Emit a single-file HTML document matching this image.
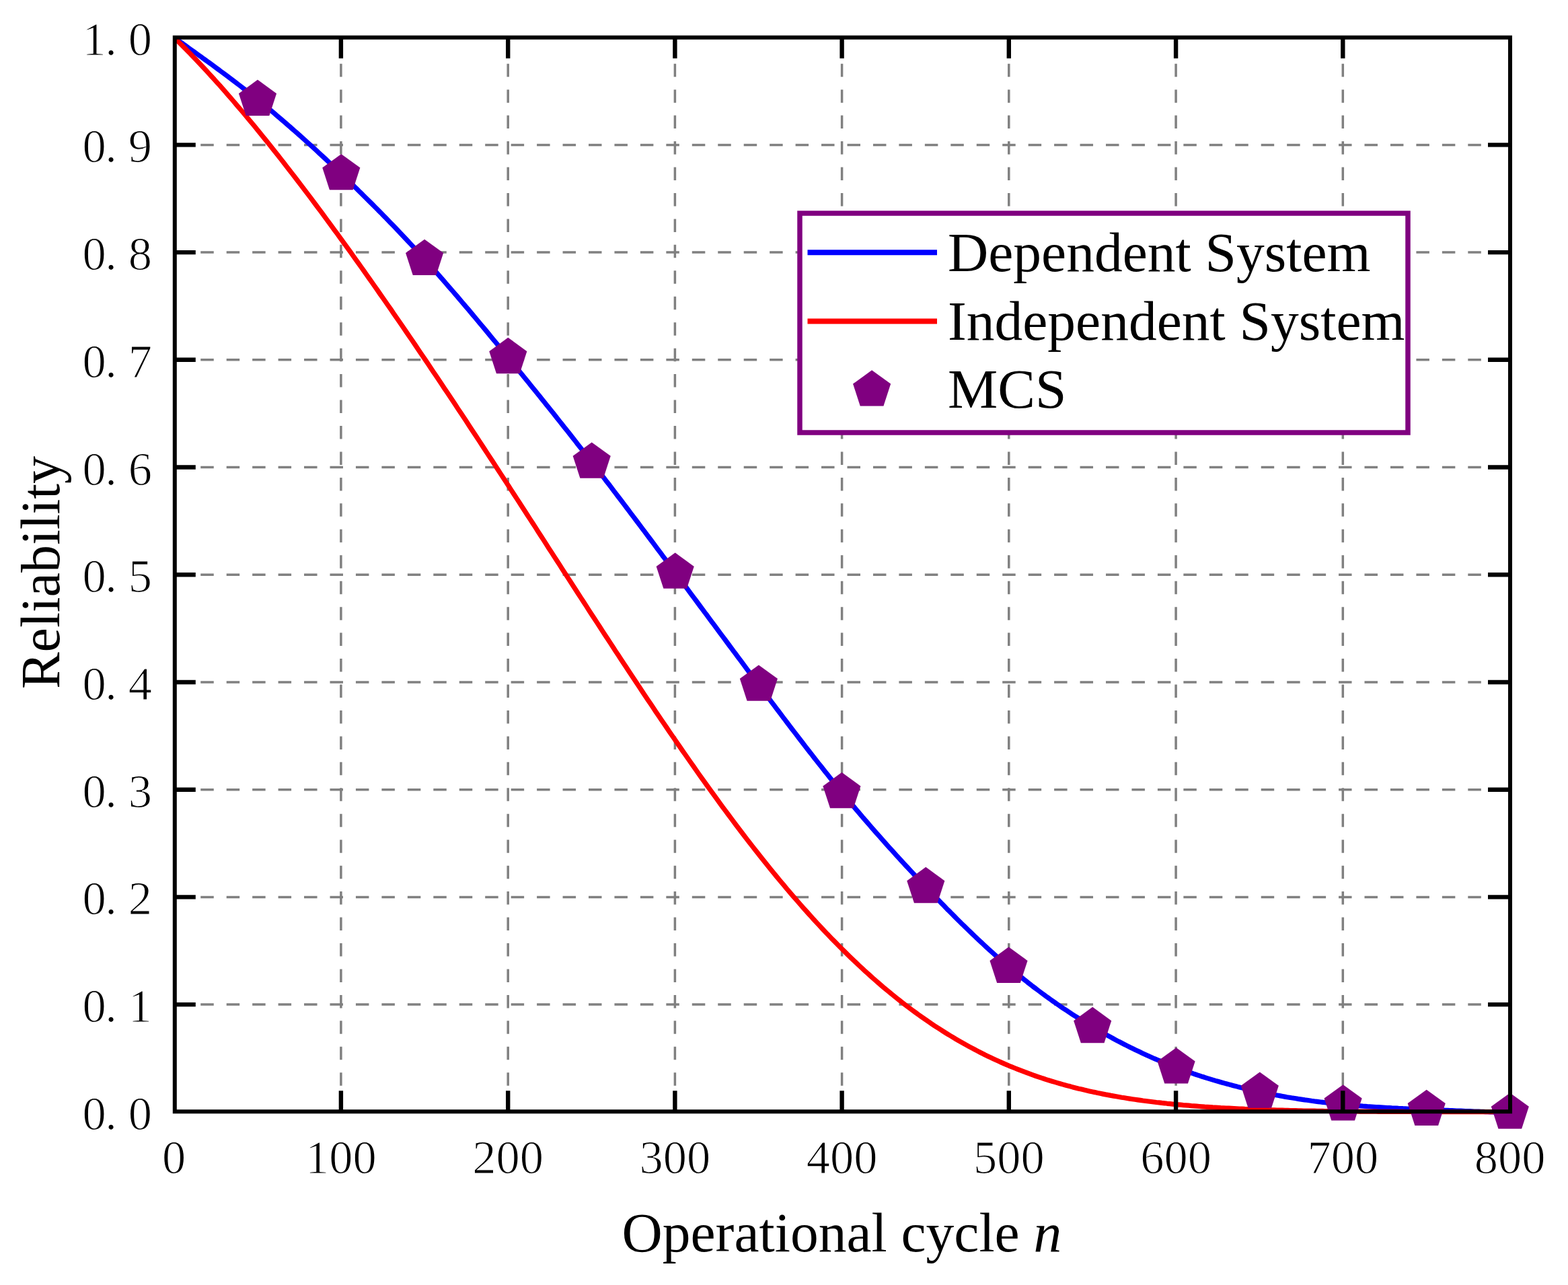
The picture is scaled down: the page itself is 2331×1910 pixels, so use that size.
<!DOCTYPE html>
<html><head><meta charset="utf-8"><title>Reliability vs Operational cycle</title>
<style>html,body{margin:0;padding:0;background:#fff;overflow:hidden;}svg{display:block;}</style>
</head><body>
<svg width="2331" height="1910" viewBox="0 0 2331 1910"><rect width="2331" height="1910" fill="#fff"/><defs><clipPath id="pc"><rect x="259.8" y="55.7" width="1985.2" height="1608.5"/></clipPath></defs><path d="M259.8,1493.1 H2245.0 M259.8,1333.4 H2245.0 M259.8,1173.7 H2245.0 M259.8,1014.0 H2245.0 M259.8,854.2 H2245.0 M259.8,694.5 H2245.0 M259.8,534.8 H2245.0 M259.8,375.1 H2245.0 M259.8,215.4 H2245.0 M506.9,1652.2 V55.7 M755.2,1652.2 V55.7 M1003.4,1652.2 V55.7 M1251.6,1652.2 V55.7 M1499.8,1652.2 V55.7 M1748.1,1652.2 V55.7 M1996.3,1652.2 V55.7" stroke="#808080" stroke-width="3.5" stroke-dasharray="19.5 18.95" fill="none"/><rect x="1189" y="317" width="904" height="326" fill="#fff" stroke="#800080" stroke-width="7.5"/><g clip-path="url(#pc)" fill="none" stroke-width="7.2" stroke-linejoin="round"><path d="M258.7,55.7 L262.0,58.1 L265.3,60.4 L268.6,62.8 L272.0,65.1 L275.3,67.5 L278.6,69.9 L281.9,72.3 L285.2,74.6 L288.5,77.0 L291.9,79.4 L295.2,81.8 L298.5,84.2 L301.8,86.6 L305.1,89.0 L308.4,91.4 L311.8,93.8 L315.1,96.2 L318.4,98.6 L321.7,101.1 L325.0,103.5 L328.3,106.0 L331.6,108.4 L335.0,110.9 L338.3,113.4 L341.6,115.9 L344.9,118.4 L348.2,120.9 L351.5,123.4 L354.9,126.0 L358.2,128.5 L361.5,131.1 L364.8,133.7 L368.1,136.3 L371.4,138.9 L374.7,141.5 L378.1,144.1 L381.4,146.8 L384.7,149.5 L388.0,152.2 L391.3,154.9 L394.6,157.6 L398.0,160.3 L401.3,163.1 L404.6,165.8 L407.9,168.6 L411.2,171.4 L414.5,174.3 L417.9,177.1 L421.2,179.9 L424.5,182.8 L427.8,185.7 L431.1,188.5 L434.4,191.5 L437.7,194.4 L441.1,197.3 L444.4,200.2 L447.7,203.2 L451.0,206.2 L454.3,209.1 L457.6,212.1 L461.0,215.2 L464.3,218.2 L467.6,221.2 L470.9,224.2 L474.2,227.3 L477.5,230.4 L480.9,233.5 L484.2,236.5 L487.5,239.6 L490.8,242.8 L494.1,245.9 L497.4,249.0 L500.7,252.2 L504.1,255.3 L507.4,258.5 L510.7,261.6 L514.0,264.8 L517.3,268.0 L520.6,271.2 L524.0,274.4 L527.3,277.7 L530.6,280.9 L533.9,284.2 L537.2,287.4 L540.5,290.7 L543.8,294.0 L547.2,297.3 L550.5,300.6 L553.8,303.9 L557.1,307.2 L560.4,310.6 L563.7,313.9 L567.1,317.3 L570.4,320.7 L573.7,324.1 L577.0,327.5 L580.3,330.9 L583.6,334.3 L587.0,337.8 L590.3,341.3 L593.6,344.7 L596.9,348.2 L600.2,351.7 L603.5,355.3 L606.8,358.8 L610.2,362.4 L613.5,365.9 L616.8,369.5 L620.1,373.1 L623.4,376.8 L626.7,380.4 L630.1,384.0 L633.4,387.7 L636.7,391.4 L640.0,395.1 L643.3,398.8 L646.6,402.6 L650.0,406.3 L653.3,410.1 L656.6,413.9 L659.9,417.7 L663.2,421.5 L666.5,425.3 L669.8,429.1 L673.2,433.0 L676.5,436.8 L679.8,440.7 L683.1,444.6 L686.4,448.5 L689.7,452.4 L693.1,456.3 L696.4,460.2 L699.7,464.1 L703.0,468.1 L706.3,472.0 L709.6,476.0 L712.9,480.0 L716.3,484.0 L719.6,487.9 L722.9,491.9 L726.2,495.9 L729.5,500.0 L732.8,504.0 L736.2,508.0 L739.5,512.0 L742.8,516.0 L746.1,520.1 L749.4,524.1 L752.7,528.2 L756.1,532.2 L759.4,536.3 L762.7,540.3 L766.0,544.4 L769.3,548.5 L772.6,552.5 L775.9,556.6 L779.3,560.7 L782.6,564.8 L785.9,568.8 L789.2,572.9 L792.5,577.0 L795.8,581.1 L799.2,585.2 L802.5,589.3 L805.8,593.5 L809.1,597.6 L812.4,601.7 L815.7,605.8 L819.1,610.0 L822.4,614.1 L825.7,618.3 L829.0,622.4 L832.3,626.6 L835.6,630.8 L838.9,635.0 L842.3,639.1 L845.6,643.3 L848.9,647.5 L852.2,651.7 L855.5,655.9 L858.8,660.2 L862.2,664.4 L865.5,668.6 L868.8,672.9 L872.1,677.1 L875.4,681.4 L878.7,685.7 L882.1,689.9 L885.4,694.2 L888.7,698.5 L892.0,702.8 L895.3,707.1 L898.6,711.4 L901.9,715.8 L905.3,720.1 L908.6,724.4 L911.9,728.8 L915.2,733.1 L918.5,737.5 L921.8,741.8 L925.2,746.2 L928.5,750.6 L931.8,755.0 L935.1,759.4 L938.4,763.8 L941.7,768.1 L945.0,772.5 L948.4,777.0 L951.7,781.4 L955.0,785.8 L958.3,790.2 L961.6,794.6 L964.9,799.0 L968.3,803.5 L971.6,807.9 L974.9,812.3 L978.2,816.8 L981.5,821.2 L984.8,825.7 L988.2,830.1 L991.5,834.6 L994.8,839.0 L998.1,843.5 L1001.4,847.9 L1004.7,852.4 L1008.0,856.8 L1011.4,861.3 L1014.7,865.8 L1018.0,870.2 L1021.3,874.7 L1024.6,879.1 L1027.9,883.6 L1031.3,888.1 L1034.6,892.5 L1037.9,897.0 L1041.2,901.5 L1044.5,905.9 L1047.8,910.4 L1051.2,914.8 L1054.5,919.3 L1057.8,923.8 L1061.1,928.2 L1064.4,932.7 L1067.7,937.2 L1071.0,941.6 L1074.4,946.1 L1077.7,950.5 L1081.0,955.0 L1084.3,959.5 L1087.6,963.9 L1090.9,968.4 L1094.3,972.8 L1097.6,977.3 L1100.9,981.7 L1104.2,986.2 L1107.5,990.6 L1110.8,995.1 L1114.1,999.5 L1117.5,1003.9 L1120.8,1008.4 L1124.1,1012.8 L1127.4,1017.2 L1130.7,1021.7 L1134.0,1026.1 L1137.4,1030.5 L1140.7,1035.0 L1144.0,1039.4 L1147.3,1043.8 L1150.6,1048.2 L1153.9,1052.6 L1157.3,1057.0 L1160.6,1061.4 L1163.9,1065.8 L1167.2,1070.1 L1170.5,1074.5 L1173.8,1078.9 L1177.1,1083.2 L1180.5,1087.6 L1183.8,1091.9 L1187.1,1096.2 L1190.4,1100.5 L1193.7,1104.8 L1197.0,1109.1 L1200.4,1113.4 L1203.7,1117.7 L1207.0,1121.9 L1210.3,1126.2 L1213.6,1130.4 L1216.9,1134.6 L1220.3,1138.8 L1223.6,1143.0 L1226.9,1147.2 L1230.2,1151.3 L1233.5,1155.5 L1236.8,1159.6 L1240.1,1163.7 L1243.5,1167.8 L1246.8,1171.9 L1250.1,1175.9 L1253.4,1179.9 L1256.7,1184.0 L1260.0,1188.0 L1263.4,1191.9 L1266.7,1195.9 L1270.0,1199.9 L1273.3,1203.8 L1276.6,1207.7 L1279.9,1211.6 L1283.2,1215.5 L1286.6,1219.3 L1289.9,1223.2 L1293.2,1227.0 L1296.5,1230.8 L1299.8,1234.6 L1303.1,1238.4 L1306.5,1242.2 L1309.8,1245.9 L1313.1,1249.6 L1316.4,1253.4 L1319.7,1257.1 L1323.0,1260.8 L1326.4,1264.4 L1329.7,1268.1 L1333.0,1271.8 L1336.3,1275.4 L1339.6,1279.0 L1342.9,1282.6 L1346.2,1286.2 L1349.6,1289.8 L1352.9,1293.4 L1356.2,1296.9 L1359.5,1300.5 L1362.8,1304.0 L1366.1,1307.6 L1369.5,1311.1 L1372.8,1314.6 L1376.1,1318.1 L1379.4,1321.6 L1382.7,1325.0 L1386.0,1328.5 L1389.4,1331.9 L1392.7,1335.4 L1396.0,1338.8 L1399.3,1342.2 L1402.6,1345.6 L1405.9,1349.0 L1409.2,1352.4 L1412.6,1355.7 L1415.9,1359.1 L1419.2,1362.4 L1422.5,1365.7 L1425.8,1369.0 L1429.1,1372.3 L1432.5,1375.5 L1435.8,1378.8 L1439.1,1382.0 L1442.4,1385.2 L1445.7,1388.4 L1449.0,1391.5 L1452.3,1394.7 L1455.7,1397.8 L1459.0,1400.9 L1462.3,1404.0 L1465.6,1407.1 L1468.9,1410.1 L1472.2,1413.1 L1475.6,1416.1 L1478.9,1419.1 L1482.2,1422.1 L1485.5,1425.0 L1488.8,1427.9 L1492.1,1430.8 L1495.5,1433.6 L1498.8,1436.5 L1502.1,1439.3 L1505.4,1442.1 L1508.7,1444.8 L1512.0,1447.6 L1515.3,1450.3 L1518.7,1452.9 L1522.0,1455.6 L1525.3,1458.2 L1528.6,1460.8 L1531.9,1463.4 L1535.2,1466.0 L1538.6,1468.5 L1541.9,1471.0 L1545.2,1473.5 L1548.5,1476.0 L1551.8,1478.4 L1555.1,1480.9 L1558.5,1483.3 L1561.8,1485.6 L1565.1,1488.0 L1568.4,1490.3 L1571.7,1492.6 L1575.0,1494.9 L1578.3,1497.2 L1581.7,1499.4 L1585.0,1501.6 L1588.3,1503.8 L1591.6,1506.0 L1594.9,1508.2 L1598.2,1510.3 L1601.6,1512.4 L1604.9,1514.5 L1608.2,1516.6 L1611.5,1518.6 L1614.8,1520.7 L1618.1,1522.7 L1621.4,1524.7 L1624.8,1526.6 L1628.1,1528.6 L1631.4,1530.5 L1634.7,1532.4 L1638.0,1534.3 L1641.3,1536.2 L1644.7,1538.1 L1648.0,1539.9 L1651.3,1541.7 L1654.6,1543.5 L1657.9,1545.3 L1661.2,1547.1 L1664.6,1548.8 L1667.9,1550.5 L1671.2,1552.2 L1674.5,1553.9 L1677.8,1555.6 L1681.1,1557.2 L1684.4,1558.8 L1687.8,1560.5 L1691.1,1562.0 L1694.4,1563.6 L1697.7,1565.2 L1701.0,1566.7 L1704.3,1568.2 L1707.7,1569.7 L1711.0,1571.2 L1714.3,1572.7 L1717.6,1574.1 L1720.9,1575.5 L1724.2,1576.9 L1727.6,1578.3 L1730.9,1579.7 L1734.2,1581.0 L1737.5,1582.4 L1740.8,1583.7 L1744.1,1585.0 L1747.4,1586.3 L1750.8,1587.5 L1754.1,1588.8 L1757.4,1590.0 L1760.7,1591.2 L1764.0,1592.4 L1767.3,1593.6 L1770.7,1594.7 L1774.0,1595.9 L1777.3,1597.0 L1780.6,1598.1 L1783.9,1599.2 L1787.2,1600.3 L1790.6,1601.3 L1793.9,1602.4 L1797.2,1603.4 L1800.5,1604.4 L1803.8,1605.4 L1807.1,1606.4 L1810.4,1607.3 L1813.8,1608.3 L1817.1,1609.2 L1820.4,1610.1 L1823.7,1611.0 L1827.0,1611.9 L1830.3,1612.8 L1833.7,1613.7 L1837.0,1614.5 L1840.3,1615.4 L1843.6,1616.2 L1846.9,1617.0 L1850.2,1617.8 L1853.5,1618.6 L1856.9,1619.4 L1860.2,1620.1 L1863.5,1620.9 L1866.8,1621.6 L1870.1,1622.3 L1873.4,1623.0 L1876.8,1623.7 L1880.1,1624.4 L1883.4,1625.1 L1886.7,1625.8 L1890.0,1626.4 L1893.3,1627.1 L1896.7,1627.7 L1900.0,1628.3 L1903.3,1628.9 L1906.6,1629.5 L1909.9,1630.1 L1913.2,1630.7 L1916.5,1631.2 L1919.9,1631.8 L1923.2,1632.3 L1926.5,1632.8 L1929.8,1633.4 L1933.1,1633.9 L1936.4,1634.4 L1939.8,1634.9 L1943.1,1635.3 L1946.4,1635.8 L1949.7,1636.3 L1953.0,1636.7 L1956.3,1637.2 L1959.7,1637.6 L1963.0,1638.0 L1966.3,1638.4 L1969.6,1638.8 L1972.9,1639.2 L1976.2,1639.6 L1979.5,1639.9 L1982.9,1640.3 L1986.2,1640.7 L1989.5,1641.0 L1992.8,1641.3 L1996.1,1641.7 L1999.4,1642.0 L2002.8,1642.3 L2006.1,1642.6 L2009.4,1642.9 L2012.7,1643.1 L2016.0,1643.4 L2019.3,1643.7 L2022.6,1643.9 L2026.0,1644.2 L2029.3,1644.4 L2032.6,1644.7 L2035.9,1644.9 L2039.2,1645.1 L2042.5,1645.3 L2045.9,1645.5 L2049.2,1645.7 L2052.5,1645.9 L2055.8,1646.1 L2059.1,1646.3 L2062.4,1646.5 L2065.8,1646.7 L2069.1,1646.9 L2072.4,1647.0 L2075.7,1647.2 L2079.0,1647.4 L2082.3,1647.5 L2085.6,1647.7 L2089.0,1647.8 L2092.3,1648.0 L2095.6,1648.1 L2098.9,1648.3 L2102.2,1648.4 L2105.5,1648.6 L2108.9,1648.7 L2112.2,1648.9 L2115.5,1649.0 L2118.8,1649.1 L2122.1,1649.3 L2125.4,1649.4 L2128.8,1649.5 L2132.1,1649.7 L2135.4,1649.8 L2138.7,1649.9 L2142.0,1650.1 L2145.3,1650.2 L2148.6,1650.3 L2152.0,1650.4 L2155.3,1650.6 L2158.6,1650.7 L2161.9,1650.8 L2165.2,1651.0 L2168.5,1651.1 L2171.9,1651.2 L2175.2,1651.3 L2178.5,1651.5 L2181.8,1651.6 L2185.1,1651.7 L2188.4,1651.8 L2191.7,1652.0 L2195.1,1652.1 L2198.4,1652.2 L2201.7,1652.3 L2205.0,1652.4 L2208.3,1652.6 L2211.6,1652.7 L2215.0,1652.8 L2218.3,1652.9 L2221.6,1653.1 L2224.9,1653.2 L2228.2,1653.3 L2231.5,1653.4 L2234.9,1653.5 L2238.2,1653.7 L2241.5,1653.8 L2244.8,1653.9" stroke="#0000ff"/><path d="M258.7,55.7 L262.7,59.6 L266.7,63.5 L270.6,67.4 L274.6,71.4 L278.6,75.5 L282.6,79.6 L286.6,83.7 L290.5,87.8 L294.5,92.0 L298.5,96.2 L302.5,100.5 L306.5,104.8 L310.4,109.1 L314.4,113.5 L318.4,117.8 L322.4,122.3 L326.4,126.7 L330.3,131.2 L334.3,135.7 L338.3,140.3 L342.3,144.9 L346.3,149.5 L350.2,154.1 L354.2,158.8 L358.2,163.5 L362.2,168.2 L366.2,172.9 L370.1,177.7 L374.1,182.5 L378.1,187.3 L382.1,192.2 L386.0,197.1 L390.0,202.0 L394.0,206.9 L398.0,211.8 L402.0,216.8 L405.9,221.8 L409.9,226.8 L413.9,231.8 L417.9,236.9 L421.9,242.0 L425.8,247.1 L429.8,252.2 L433.8,257.4 L437.8,262.5 L441.8,267.7 L445.7,272.9 L449.7,278.1 L453.7,283.4 L457.7,288.6 L461.7,293.9 L465.6,299.2 L469.6,304.5 L473.6,309.9 L477.6,315.2 L481.6,320.6 L485.5,326.0 L489.5,331.4 L493.5,336.8 L497.5,342.3 L501.5,347.7 L505.4,353.2 L509.4,358.7 L513.4,364.2 L517.4,369.7 L521.4,375.2 L525.3,380.8 L529.3,386.3 L533.3,391.9 L537.3,397.5 L541.3,403.1 L545.2,408.7 L549.2,414.4 L553.2,420.0 L557.2,425.7 L561.2,431.4 L565.1,437.1 L569.1,442.8 L573.1,448.5 L577.1,454.2 L581.1,459.9 L585.0,465.7 L589.0,471.5 L593.0,477.2 L597.0,483.0 L600.9,488.8 L604.9,494.6 L608.9,500.5 L612.9,506.3 L616.9,512.1 L620.8,518.0 L624.8,523.9 L628.8,529.8 L632.8,535.6 L636.8,541.5 L640.7,547.5 L644.7,553.4 L648.7,559.3 L652.7,565.2 L656.7,571.2 L660.6,577.2 L664.6,583.1 L668.6,589.1 L672.6,595.1 L676.6,601.1 L680.5,607.1 L684.5,613.1 L688.5,619.1 L692.5,625.1 L696.5,631.2 L700.4,637.2 L704.4,643.3 L708.4,649.3 L712.4,655.4 L716.4,661.5 L720.3,667.5 L724.3,673.6 L728.3,679.7 L732.3,685.8 L736.3,691.9 L740.2,698.0 L744.2,704.1 L748.2,710.2 L752.2,716.4 L756.2,722.5 L760.1,728.6 L764.1,734.8 L768.1,740.9 L772.1,747.0 L776.1,753.2 L780.0,759.3 L784.0,765.5 L788.0,771.6 L792.0,777.8 L796.0,783.9 L799.9,790.1 L803.9,796.3 L807.9,802.4 L811.9,808.6 L815.8,814.8 L819.8,820.9 L823.8,827.1 L827.8,833.2 L831.8,839.4 L835.7,845.6 L839.7,851.7 L843.7,857.9 L847.7,864.0 L851.7,870.2 L855.6,876.3 L859.6,882.5 L863.6,888.6 L867.6,894.8 L871.6,900.9 L875.5,907.1 L879.5,913.2 L883.5,919.3 L887.5,925.4 L891.5,931.5 L895.4,937.7 L899.4,943.8 L903.4,949.8 L907.4,955.9 L911.4,962.0 L915.3,968.1 L919.3,974.1 L923.3,980.2 L927.3,986.2 L931.3,992.3 L935.2,998.3 L939.2,1004.3 L943.2,1010.3 L947.2,1016.3 L951.2,1022.3 L955.1,1028.3 L959.1,1034.2 L963.1,1040.2 L967.1,1046.1 L971.1,1052.0 L975.0,1057.9 L979.0,1063.8 L983.0,1069.7 L987.0,1075.6 L991.0,1081.4 L994.9,1087.2 L998.9,1093.0 L1002.9,1098.8 L1006.9,1104.6 L1010.9,1110.4 L1014.8,1116.1 L1018.8,1121.8 L1022.8,1127.5 L1026.8,1133.2 L1030.8,1138.9 L1034.7,1144.5 L1038.7,1150.2 L1042.7,1155.8 L1046.7,1161.3 L1050.6,1166.9 L1054.6,1172.4 L1058.6,1177.9 L1062.6,1183.4 L1066.6,1188.9 L1070.5,1194.3 L1074.5,1199.8 L1078.5,1205.1 L1082.5,1210.5 L1086.5,1215.9 L1090.4,1221.2 L1094.4,1226.5 L1098.4,1231.7 L1102.4,1237.0 L1106.4,1242.2 L1110.3,1247.4 L1114.3,1252.5 L1118.3,1257.6 L1122.3,1262.7 L1126.3,1267.8 L1130.2,1272.8 L1134.2,1277.8 L1138.2,1282.8 L1142.2,1287.7 L1146.2,1292.7 L1150.1,1297.5 L1154.1,1302.4 L1158.1,1307.2 L1162.1,1312.0 L1166.1,1316.7 L1170.0,1321.5 L1174.0,1326.1 L1178.0,1330.8 L1182.0,1335.4 L1186.0,1340.0 L1189.9,1344.5 L1193.9,1349.1 L1197.9,1353.5 L1201.9,1358.0 L1205.9,1362.4 L1209.8,1366.8 L1213.8,1371.1 L1217.8,1375.4 L1221.8,1379.7 L1225.8,1383.9 L1229.7,1388.1 L1233.7,1392.2 L1237.7,1396.4 L1241.7,1400.4 L1245.7,1404.5 L1249.6,1408.5 L1253.6,1412.4 L1257.6,1416.4 L1261.6,1420.3 L1265.5,1424.1 L1269.5,1427.9 L1273.5,1431.7 L1277.5,1435.5 L1281.5,1439.2 L1285.4,1442.8 L1289.4,1446.4 L1293.4,1450.0 L1297.4,1453.6 L1301.4,1457.1 L1305.3,1460.5 L1309.3,1464.0 L1313.3,1467.4 L1317.3,1470.7 L1321.3,1474.0 L1325.2,1477.3 L1329.2,1480.5 L1333.2,1483.7 L1337.2,1486.9 L1341.2,1490.0 L1345.1,1493.1 L1349.1,1496.1 L1353.1,1499.1 L1357.1,1502.1 L1361.1,1505.0 L1365.0,1507.9 L1369.0,1510.7 L1373.0,1513.5 L1377.0,1516.3 L1381.0,1519.0 L1384.9,1521.7 L1388.9,1524.4 L1392.9,1527.0 L1396.9,1529.6 L1400.9,1532.1 L1404.8,1534.6 L1408.8,1537.1 L1412.8,1539.5 L1416.8,1541.9 L1420.8,1544.3 L1424.7,1546.6 L1428.7,1548.9 L1432.7,1551.2 L1436.7,1553.4 L1440.7,1555.6 L1444.6,1557.7 L1448.6,1559.8 L1452.6,1561.9 L1456.6,1564.0 L1460.6,1566.0 L1464.5,1568.0 L1468.5,1569.9 L1472.5,1571.8 L1476.5,1573.7 L1480.4,1575.5 L1484.4,1577.3 L1488.4,1579.1 L1492.4,1580.9 L1496.4,1582.6 L1500.3,1584.3 L1504.3,1585.9 L1508.3,1587.5 L1512.3,1589.1 L1516.3,1590.7 L1520.2,1592.2 L1524.2,1593.7 L1528.2,1595.2 L1532.2,1596.7 L1536.2,1598.1 L1540.1,1599.5 L1544.1,1600.8 L1548.1,1602.2 L1552.1,1603.5 L1556.1,1604.8 L1560.0,1606.0 L1564.0,1607.2 L1568.0,1608.4 L1572.0,1609.6 L1576.0,1610.8 L1579.9,1611.9 L1583.9,1613.0 L1587.9,1614.1 L1591.9,1615.1 L1595.9,1616.2 L1599.8,1617.2 L1603.8,1618.2 L1607.8,1619.1 L1611.8,1620.1 L1615.8,1621.0 L1619.7,1621.9 L1623.7,1622.8 L1627.7,1623.6 L1631.7,1624.5 L1635.7,1625.3 L1639.6,1626.1 L1643.6,1626.9 L1647.6,1627.6 L1651.6,1628.4 L1655.6,1629.1 L1659.5,1629.8 L1663.5,1630.5 L1667.5,1631.2 L1671.5,1631.8 L1675.5,1632.5 L1679.4,1633.1 L1683.4,1633.7 L1687.4,1634.3 L1691.4,1634.9 L1695.3,1635.4 L1699.3,1636.0 L1703.3,1636.5 L1707.3,1637.0 L1711.3,1637.5 L1715.2,1638.0 L1719.2,1638.5 L1723.2,1638.9 L1727.2,1639.4 L1731.2,1639.8 L1735.1,1640.3 L1739.1,1640.7 L1743.1,1641.1 L1747.1,1641.5 L1751.1,1641.8 L1755.0,1642.2 L1759.0,1642.6 L1763.0,1642.9 L1767.0,1643.2 L1771.0,1643.6 L1774.9,1643.9 L1778.9,1644.2 L1782.9,1644.5 L1786.9,1644.8 L1790.9,1645.1 L1794.8,1645.3 L1798.8,1645.6 L1802.8,1645.9 L1806.8,1646.1 L1810.8,1646.3 L1814.7,1646.6 L1818.7,1646.8 L1822.7,1647.0 L1826.7,1647.2 L1830.7,1647.4 L1834.6,1647.6 L1838.6,1647.8 L1842.6,1648.0 L1846.6,1648.2 L1850.6,1648.4 L1854.5,1648.5 L1858.5,1648.7 L1862.5,1648.8 L1866.5,1649.0 L1870.5,1649.1 L1874.4,1649.3 L1878.4,1649.4 L1882.4,1649.5 L1886.4,1649.7 L1890.4,1649.8 L1894.3,1649.9 L1898.3,1650.0 L1902.3,1650.1 L1906.3,1650.2 L1910.3,1650.3 L1914.2,1650.4 L1918.2,1650.5 L1922.2,1650.6 L1926.2,1650.7 L1930.1,1650.8 L1934.1,1650.9 L1938.1,1651.0 L1942.1,1651.0 L1946.1,1651.1 L1950.0,1651.2 L1954.0,1651.2 L1958.0,1651.3 L1962.0,1651.4 L1966.0,1651.4 L1969.9,1651.5 L1973.9,1651.5 L1977.9,1651.6 L1981.9,1651.6 L1985.9,1651.7 L1989.8,1651.7 L1993.8,1651.8 L1997.8,1651.8 L2001.8,1651.9 L2005.8,1651.9 L2009.7,1652.0 L2013.7,1652.0 L2017.7,1652.0 L2021.7,1652.1 L2025.7,1652.1 L2029.6,1652.1 L2033.6,1652.2 L2037.6,1652.2 L2041.6,1652.2 L2045.6,1652.2 L2049.5,1652.3 L2053.5,1652.3 L2057.5,1652.3 L2061.5,1652.3 L2065.5,1652.4 L2069.4,1652.4 L2073.4,1652.4 L2077.4,1652.4 L2081.4,1652.4 L2085.4,1652.4 L2089.3,1652.5 L2093.3,1652.5 L2097.3,1652.5 L2101.3,1652.5 L2105.3,1652.5 L2109.2,1652.5 L2113.2,1652.5 L2117.2,1652.6 L2121.2,1652.6 L2125.2,1652.6 L2129.1,1652.6 L2133.1,1652.6 L2137.1,1652.6 L2141.1,1652.6 L2145.0,1652.6 L2149.0,1652.6 L2153.0,1652.6 L2157.0,1652.7 L2161.0,1652.7 L2164.9,1652.7 L2168.9,1652.7 L2172.9,1652.7 L2176.9,1652.7 L2180.9,1652.7 L2184.8,1652.7 L2188.8,1652.7 L2192.8,1652.7 L2196.8,1652.7 L2200.8,1652.7 L2204.7,1652.7 L2208.7,1652.7 L2212.7,1652.7 L2216.7,1652.7 L2220.7,1652.7 L2224.6,1652.7 L2228.6,1652.7 L2232.6,1652.7 L2236.6,1652.7 L2240.6,1652.8 L2244.5,1652.8" stroke="#ff0000"/></g><g fill="#800080"><polygon points="383.00,118.60 411.06,138.98 400.34,171.97 365.66,171.97 354.94,138.98"/><polygon points="507.30,228.90 535.36,249.28 524.64,282.27 489.96,282.27 479.24,249.28"/><polygon points="631.10,355.70 659.16,376.08 648.44,409.07 613.76,409.07 603.04,376.08"/><polygon points="755.30,501.80 783.36,522.18 772.64,555.17 737.96,555.17 727.24,522.18"/><polygon points="879.70,657.40 907.76,677.78 897.04,710.77 862.36,710.77 851.64,677.78"/><polygon points="1003.70,821.50 1031.76,841.88 1021.04,874.87 986.36,874.87 975.64,841.88"/><polygon points="1127.90,988.40 1155.96,1008.78 1145.24,1041.77 1110.56,1041.77 1099.84,1008.78"/><polygon points="1251.40,1148.00 1279.46,1168.38 1268.74,1201.37 1234.06,1201.37 1223.34,1168.38"/><polygon points="1376.30,1288.80 1404.36,1309.18 1393.64,1342.17 1358.96,1342.17 1348.24,1309.18"/><polygon points="1499.50,1407.60 1527.56,1427.98 1516.84,1460.97 1482.16,1460.97 1471.44,1427.98"/><polygon points="1624.20,1496.80 1652.26,1517.18 1641.54,1550.17 1606.86,1550.17 1596.14,1517.18"/><polygon points="1748.60,1557.20 1776.66,1577.58 1765.94,1610.57 1731.26,1610.57 1720.54,1577.58"/><polygon points="1872.80,1593.40 1900.86,1613.78 1890.14,1646.77 1855.46,1646.77 1844.74,1613.78"/><polygon points="1996.60,1612.20 2024.66,1632.58 2013.94,1665.57 1979.26,1665.57 1968.54,1632.58"/><polygon points="2120.70,1619.70 2148.76,1640.08 2138.04,1673.07 2103.36,1673.07 2092.64,1640.08"/><polygon points="2244.80,1624.40 2272.86,1644.78 2262.14,1677.77 2227.46,1677.77 2216.74,1644.78"/></g><path d="M259.8,1493.1 h31 M2245.0,1493.1 h-33 M259.8,1333.4 h31 M2245.0,1333.4 h-33 M259.8,1173.7 h31 M2245.0,1173.7 h-33 M259.8,1014.0 h31 M2245.0,1014.0 h-33 M259.8,854.2 h31 M2245.0,854.2 h-33 M259.8,694.5 h31 M2245.0,694.5 h-33 M259.8,534.8 h31 M2245.0,534.8 h-33 M259.8,375.1 h31 M2245.0,375.1 h-33 M259.8,215.4 h31 M2245.0,215.4 h-33 M506.9,1652.2 v-31 M506.9,55.7 v31 M755.2,1652.2 v-31 M755.2,55.7 v31 M1003.4,1652.2 v-31 M1003.4,55.7 v31 M1251.6,1652.2 v-31 M1251.6,55.7 v31 M1499.8,1652.2 v-31 M1499.8,55.7 v31 M1748.1,1652.2 v-31 M1748.1,55.7 v31 M1996.3,1652.2 v-31 M1996.3,55.7 v31" stroke="#000" stroke-width="6.4" fill="none"/><rect x="259.8" y="55.7" width="1985.2" height="1596.5" fill="none" stroke="#000" stroke-width="6.0"/><g font-family="Liberation Serif, serif" font-size="70.5" fill="#000" stroke="#fff" stroke-width="1.2"><text y="1678.8" text-anchor="middle"><tspan x="140">0</tspan><tspan x="165.1">.</tspan><tspan x="208.3">0</tspan></text><text y="1519.1" text-anchor="middle"><tspan x="140">0</tspan><tspan x="165.1">.</tspan><tspan x="208.3">1</tspan></text><text y="1359.4" text-anchor="middle"><tspan x="140">0</tspan><tspan x="165.1">.</tspan><tspan x="208.3">2</tspan></text><text y="1199.7" text-anchor="middle"><tspan x="140">0</tspan><tspan x="165.1">.</tspan><tspan x="208.3">3</tspan></text><text y="1040.0" text-anchor="middle"><tspan x="140">0</tspan><tspan x="165.1">.</tspan><tspan x="208.3">4</tspan></text><text y="880.2" text-anchor="middle"><tspan x="140">0</tspan><tspan x="165.1">.</tspan><tspan x="208.3">5</tspan></text><text y="720.5" text-anchor="middle"><tspan x="140">0</tspan><tspan x="165.1">.</tspan><tspan x="208.3">6</tspan></text><text y="560.8" text-anchor="middle"><tspan x="140">0</tspan><tspan x="165.1">.</tspan><tspan x="208.3">7</tspan></text><text y="401.1" text-anchor="middle"><tspan x="140">0</tspan><tspan x="165.1">.</tspan><tspan x="208.3">8</tspan></text><text y="241.4" text-anchor="middle"><tspan x="140">0</tspan><tspan x="165.1">.</tspan><tspan x="208.3">9</tspan></text><text y="81.7" text-anchor="middle"><tspan x="140">1</tspan><tspan x="165.1">.</tspan><tspan x="208.3">0</tspan></text><text x="258.7" y="1744.3" text-anchor="middle">0</text><text x="506.9" y="1744.3" text-anchor="middle">100</text><text x="755.2" y="1744.3" text-anchor="middle">200</text><text x="1003.4" y="1744.3" text-anchor="middle">300</text><text x="1251.6" y="1744.3" text-anchor="middle">400</text><text x="1499.8" y="1744.3" text-anchor="middle">500</text><text x="1748.1" y="1744.3" text-anchor="middle">600</text><text x="1996.3" y="1744.3" text-anchor="middle">700</text><text x="2244.5" y="1744.3" text-anchor="middle">800</text></g><g font-family="Liberation Serif, serif" font-size="83.5" fill="#000"><text transform="translate(87.6,851) rotate(-90)" text-anchor="middle" font-size="82">Reliability</text><text x="924.5" y="1859.5">Operational cycle <tspan font-style="italic">n</tspan></text><text x="1409" y="403.3">Dependent System</text><text x="1409" y="505.2">Independent System</text><text x="1409" y="606.2">MCS</text></g><g stroke-width="8"><path d="M1200.5,375.2 H1393" stroke="#0000ff"/><path d="M1200.5,477.6 H1393" stroke="#ff0000"/></g><polygon points="1296.10,550.20 1324.16,570.58 1313.44,603.57 1278.76,603.57 1268.04,570.58" fill="#800080"/></svg>
</body></html>
